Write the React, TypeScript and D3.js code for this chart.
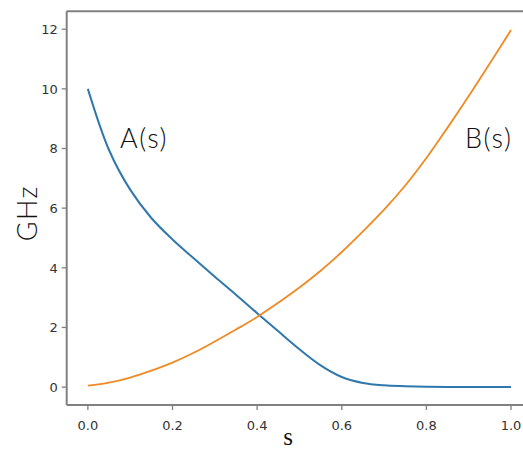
import React, {useEffect, useRef} from 'react'
import * as d3 from 'd3'

// s values along the anneal
const sValues = [
  0, 0.05, 0.1, 0.15, 0.2, 0.25, 0.3, 0.35, 0.4, 0.45, 0.5,
  0.55, 0.6, 0.65, 0.7, 0.75, 0.8, 0.85, 0.9, 0.95, 1.0,
]
// A(s) in GHz
const aValues = [
  10.0, 7.95, 6.62, 5.67, 4.95, 4.32, 3.7, 3.1, 2.48, 1.87, 1.27,
  0.73, 0.34, 0.14, 0.06, 0.03, 0.01, 0.0, 0.0, 0.0, 0.0,
]
// B(s) in GHz
const bValues = [
  0.05, 0.15, 0.32, 0.55, 0.82, 1.15, 1.53, 1.93, 2.35, 2.83, 3.34,
  3.9, 4.53, 5.22, 5.95, 6.76, 7.68, 8.7, 9.76, 10.86, 11.97,
]
const xTicks = [0, 0.2, 0.4, 0.6, 0.8, 1.0]
const yTicks = [0, 2, 4, 6, 8, 10, 12]

const W = 523
const H = 451

export default function App() {
  const ref = useRef<SVGSVGElement>(null)

  useEffect(() => {
    const svg = d3.select(ref.current)
    svg.selectAll('*').remove()

    const x = d3.scaleLinear().domain([-0.05, 1.05]).range([66.7, 532.2])
    const y = d3.scaleLinear().domain([-0.6, 12.6]).range([405, 11.3])

    const line = d3
      .line<number>()
      .x((_, i) => x(sValues[i]))
      .y((d) => y(d))
      .curve(d3.curveCatmullRom.alpha(0.5))

    svg
      .append('path')
      .attr('d', line(aValues))
      .attr('fill', 'none')
      .attr('stroke', '#2f78ad')
      .attr('stroke-width', 2)

    svg
      .append('path')
      .attr('d', line(bValues))
      .attr('fill', 'none')
      .attr('stroke', '#f08a24')
      .attr('stroke-width', 1.8)

    // spines: left, top, bottom (right one falls off the picture)
    const spine = '#808080'
    const [x0, x1] = x.range()
    const [y0, y1] = y.range()
    svg.append('line').attr('x1', x0).attr('x2', x0).attr('y1', y1).attr('y2', y0)
      .attr('stroke', spine).attr('stroke-width', 2)
    svg.append('line').attr('x1', x0).attr('x2', x1).attr('y1', y1).attr('y2', y1)
      .attr('stroke', spine).attr('stroke-width', 2)
    svg.append('line').attr('x1', x0).attr('x2', x1).attr('y1', y0).attr('y2', y0)
      .attr('stroke', spine).attr('stroke-width', 2)

    // x ticks
    const xt = svg.append('g')
    xt.selectAll('line').data(xTicks).join('line')
      .attr('x1', (d) => x(d)).attr('x2', (d) => x(d))
      .attr('y1', y0).attr('y2', y0 + 5)
      .attr('stroke', spine).attr('stroke-width', 1.3)
    xt.selectAll('text').data(xTicks).join('text')
      .attr('x', (d) => x(d)).attr('y', y0 + 25)
      .attr('text-anchor', 'middle')
      .attr('font-family', 'DejaVu Sans')
      .attr('font-size', 13)
      .attr('fill', '#333')
      .text((d) => d.toFixed(1))

    // y ticks
    const yt = svg.append('g')
    yt.selectAll('line').data(yTicks).join('line')
      .attr('x1', x0 - 5).attr('x2', x0)
      .attr('y1', (d) => y(d)).attr('y2', (d) => y(d))
      .attr('stroke', spine).attr('stroke-width', 1.3)
    yt.selectAll('text').data(yTicks).join('text')
      .attr('x', x0 - 9).attr('y', (d) => y(d) + 5)
      .attr('text-anchor', 'end')
      .attr('font-family', 'DejaVu Sans')
      .attr('font-size', 13)
      .attr('fill', '#333')
      .text((d) => d)

    // axis labels
    svg.append('text')
      .attr('transform', `translate(37, ${(y0 + y1) / 2 + 5}) rotate(-90)`)
      .attr('text-anchor', 'middle')
      .attr('font-family', 'Lato')
      .attr('font-weight', 300)
      .attr('letter-spacing', 1.5)
      .attr('font-size', 27)
      .attr('fill', '#111')
      .text('GHz')
    svg.append('text')
      .attr('x', 288).attr('y', 445)
      .attr('text-anchor', 'middle')
      .attr('font-family', 'Liberation Serif')
      .attr('font-size', 25)
      .attr('fill', '#111')
      .text('s')

    // curve names
    const nameFont = (t: d3.Selection<SVGTextElement, unknown, null, undefined>) =>
      t
        .attr('font-family', 'Lato')
        .attr('font-weight', 300)
        .attr('letter-spacing', 1.5)
        .attr('font-size', 27)
        .attr('fill', '#111')
    svg.append('text').attr('x', 120).attr('y', 148).call(nameFont).text('A(s)')
    svg.append('text').attr('x', 465).attr('y', 148).call(nameFont).text('B(s)')
  }, [])

  return (
    <svg
      ref={ref}
      width={W}
      height={H}
      style={{position: 'absolute', left: 0, top: 0, background: '#fff'}}
    />
  )
}
